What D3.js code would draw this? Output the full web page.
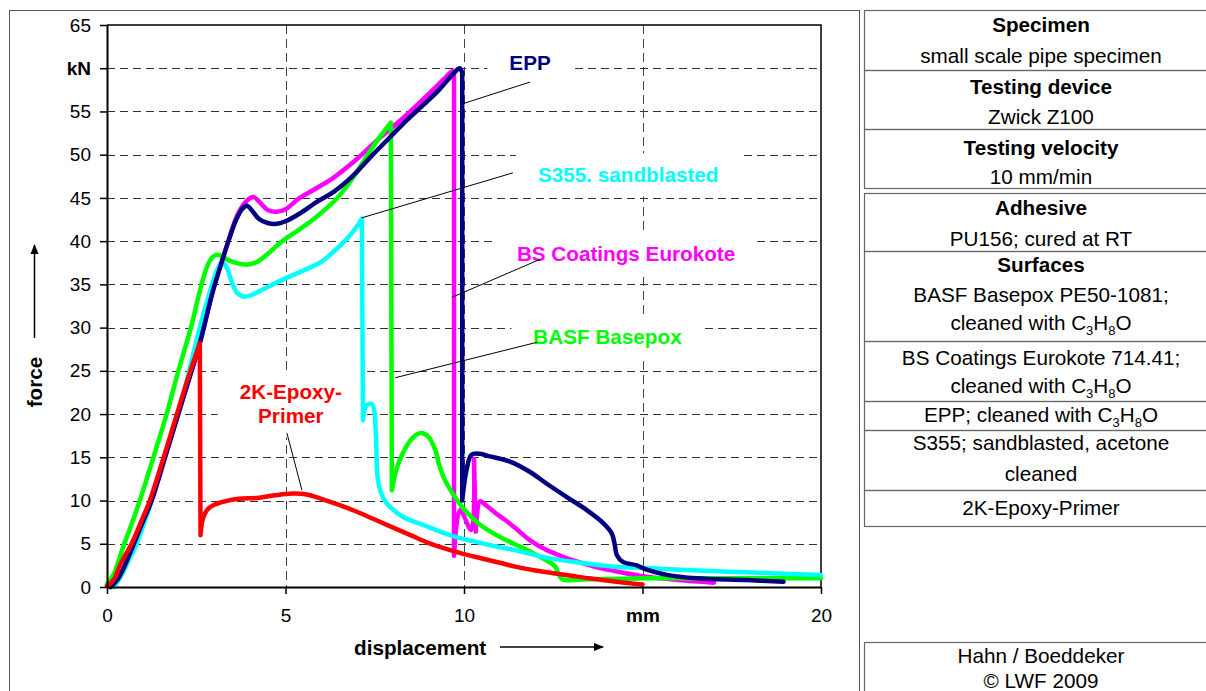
<!DOCTYPE html>
<html>
<head>
<meta charset="utf-8">
<script src="https://cdn.jsdelivr.net/npm/d3@7"></script>
<style>
body { margin: 0; background: #fff; }
text { font-family: "Liberation Sans", Arial, sans-serif; }
</style>
</head>
<body>
<div id="chart"></div>
<script>
var width = 1206;
var height = 691;

// axis ticks
var xTickValues = [0, 5, 10, 15, 20];
var xTickLabels = ["0", "5", "10", "mm", "20"];
var yTickValues = [0, 5, 10, 15, 20, 25, 30, 35, 40, 45, 50, 55, 60, 65];
var yTickLabels = ["0", "5", "10", "15", "20", "25", "30", "35", "40", "45", "50", "55", "kN", "65"];

// series: [displacement mm, force kN]
var eurokote = [[0.1,0],[0.35,1.3],[0.6,3.3],[0.8,5.2],[1.25,10],[1.95,19.4],[2.6,28.2],[2.95,34],[3.4,40],[3.65,43],
  [3.9,44.6],[4.1,45.1],[4.3,44.4],[4.5,43.6],[4.75,43.4],[5.0,43.7],[5.4,45.0],[5.9,46.2],[6.33,47.3],[7.0,49.5],
  [7.6,51.8],[8.2,53.9],[8.7,55.8],[9.13,57.5],[9.45,58.8],[9.7,59.7],[9.72,59.3],[9.72,3.6],[9.89,8.9],[10.2,6.6],
  [10.28,14.8],[10.33,6.4],[10.45,9.9],[10.6,9.5],[10.9,8.5],[11.2,7.6],[11.5,6.6],[11.85,5.4],[12.3,4.3],[12.77,3.5],
  [13.2,2.9],[13.7,2.3],[14.4,1.7],[15.1,1.2],[16,0.8],[17,0.5]];
var basepox = [[0,0.3],[0.2,1.6],[0.45,4.6],[0.7,7.4],[0.92,10],[1.3,15],[1.67,20],[2.0,25],[2.35,30],[2.65,35],
  [2.85,37.5],[3.0,38.3],[3.15,38.4],[3.4,37.8],[3.7,37.4],[3.95,37.3],[4.2,37.6],[4.5,38.5],[4.85,39.8],[5.3,41.1],
  [5.8,42.6],[6.45,45],[6.9,47.4],[7.27,49.8],[7.6,51.8],[7.95,53.7],[7.98,11.2],[8.1,13.5],[8.3,15.6],[8.55,17.2],
  [8.8,17.8],[9.0,17.4],[9.2,15.8],[9.3,14.2],[9.45,12.5],[9.7,10.7],[10.0,9.0],[10.45,7.2],[11.0,5.8],[11.4,5.0],
  [11.9,4.0],[12.3,3.1],[12.55,2.4],[12.65,1.5],[12.75,0.9],[13.5,0.9],[15,1.0],[17,1.0],[20,1.0]];
var s355 = [[0.2,0],[0.4,1.3],[0.6,3.0],[0.83,5],[1.05,7.5],[1.25,10],[1.6,15],[2.0,20],[2.3,25],[2.6,30],
  [2.85,33.7],[3.05,36.3],[3.22,37.6],[3.35,37],[3.5,35.2],[3.65,34],[3.8,33.6],[4.0,33.7],[4.4,34.5],[5.0,35.7],
  [5.5,36.6],[6.0,37.6],[6.35,38.8],[6.75,40.4],[7.0,41.7],[7.14,42.6],[7.17,19.3],[7.27,21.0],[7.41,21.2],[7.5,20.1],
  [7.54,17],[7.56,13.5],[7.65,11.2],[7.83,9.7],[8.3,8.1],[8.85,7.2],[9.6,6.0],[10.25,5.3],[11.0,4.6],[11.5,4.2],
  [12.3,3.4],[13.25,2.8],[14.2,2.35],[15.1,2.2],[16.05,2.0],[17.9,1.7],[20,1.4]];
var epp = [[0.1,0],[0.3,0.9],[0.5,2.5],[0.75,5],[1.0,7.5],[1.25,10],[1.6,14.7],[1.95,19.4],[2.3,24.1],[2.6,28.2],
  [2.95,34],[3.2,37.4],[3.4,40],[3.6,42.3],[3.78,43.7],[3.92,44.1],[4.05,43.6],[4.25,42.6],[4.5,42.1],[4.75,42.0],
  [5.0,42.3],[5.4,43.2],[5.9,44.6],[6.35,45.7],[6.9,47.6],[7.4,49.8],[7.9,51.9],[8.4,54.0],[8.9,55.9],[9.3,57.5],
  [9.6,58.9],[9.8,59.8],[9.88,60.0],[9.95,59.5],[9.95,10.0],[10.07,13.5],[10.21,15.3],[10.45,15.4],[10.73,15.1],
  [11.29,14.5],[11.85,13.3],[12.3,12.0],[12.88,10.4],[13.44,8.9],[13.9,7.4],[14.14,6.2],[14.23,4.7],[14.28,3.7],
  [14.45,2.9],[14.84,2.5],[15.12,2.0],[15.68,1.4],[16.52,1.0],[17.92,0.8],[18.95,0.6]];
var primer = [[0,0.1],[0.2,0.9],[0.36,2.5],[0.7,5.1],[0.95,7.5],[1.2,10],[1.55,14.5],[1.9,19.2],[2.25,23.9],[2.6,28.2],
  [2.62,6.0],[2.68,7.8],[2.8,8.9],[3.0,9.5],[3.3,9.9],[3.7,10.2],[4.2,10.3],[4.7,10.6],[5.2,10.8],[5.6,10.7],
  [6.0,10.2],[6.5,9.5],[7.0,8.7],[7.5,7.8],[8.0,6.9],[8.5,6.0],[9.0,5.1],[9.5,4.4],[10,3.8],[10.5,3.3],[11,2.8],
  [11.5,2.3],[12,1.9],[12.5,1.6],[13,1.3],[13.5,1.0],[14,0.75],[14.5,0.5],[15,0.3]];

var seriesNames = ["BS Coatings Eurokote", "BASF Basepox", "S355. sandblasted", "EPP", "2K-Epoxy-Primer"];
var seriesColors = ["#ff00ff", "#00ff00", "#00ffff", "#000080", "#ff0000"];
var seriesData = [eurokote, basepox, s355, epp, primer];

// labels on the curves: text lines, anchor (mm, kN) and leader line (mm, kN)
var labelLines = [["BS Coatings Eurokote"], ["BASF Basepox"], ["S355. sandblasted"], ["EPP"], ["2K-Epoxy-", "Primer"]];
var labelAt = [[14.54, 37.7], [14.02, 28.1], [14.6, 46.8], [11.85, 59.8], [5.15, 21.7]];
var leaders = [[[9.66,33.5],[12.13,37.9]], [[8.07,24.2],[12.04,28.3]], [[7.14,42.7],[11.37,47.9]],
  [[9.97,55.9],[11.85,58.4]], [[5.04,17.8],[5.46,11.2]]];

// info table at the right
var tableCells = [
  ["*Specimen", "small scale pipe specimen"],
  ["*Testing device", "Zwick Z100"],
  ["*Testing velocity", "10 mm/min"],
  ["*Adhesive", "PU156; cured at RT"],
  ["*Surfaces", "BASF Basepox PE50-1081;", "cleaned with C_3H_8O"],
  ["BS Coatings Eurokote 714.41;", "cleaned with C_3H_8O"],
  ["EPP; cleaned with C_3H_8O"],
  ["S355; sandblasted, acetone", "cleaned"],
  ["2K-Epoxy-Primer"],
  ["Hahn / Boeddeker", "\u00a9 LWF 2009"]
];
var cellTop = [10, 70, 129, 193, 251, 341, 401, 430, 490, 642];
var cellBottom = [70, 129, 188, 251, 341, 401, 430, 490, 526, 720];
var cellBaselines = [[32, 63], [94, 124], [155, 184], [215, 246], [272, 302, 330], [365, 393], [422], [450, 481], [515], [663, 688]];

var fontSize = 20.7;

var svg = d3.select("#chart")
  .append("svg")
  .attr("width", width)
  .attr("height", height)
  .style("display", "block");

svg.append("rect").attr("width", width).attr("height", height).attr("fill", "#fff");

var x = d3.scaleLinear().domain([0, 20]).range([107, 821]);
var y = d3.scaleLinear().domain([0, 65]).range([587, 25]);

// outer chart frame
svg.append("rect")
  .attr("x", 9.5).attr("y", 10.5)
  .attr("width", 850).attr("height", 720)
  .attr("fill", "none").attr("stroke", "#555").attr("stroke-width", 1);

// grid
svg.append("g").selectAll("line")
  .data(yTickValues.filter(function (d) { return d > 0 && d < 65; }))
  .enter().append("line")
  .attr("x1", x(0)).attr("x2", x(20))
  .attr("y1", function (d) { return Math.round(y(d)) + 0.5; })
  .attr("y2", function (d) { return Math.round(y(d)) + 0.5; })
  .attr("stroke", "#333").attr("stroke-dasharray", "8,5");

svg.append("g").selectAll("line")
  .data(xTickValues.filter(function (d) { return d > 0 && d < 20; }))
  .enter().append("line")
  .attr("y1", y(65)).attr("y2", y(0))
  .attr("x1", function (d) { return Math.round(x(d)) + 0.5; })
  .attr("x2", function (d) { return Math.round(x(d)) + 0.5; })
  .attr("stroke", "#444").attr("stroke-dasharray", "9,5");

// plot frame top/right
svg.append("path")
  .attr("d", "M" + x(0) + "," + y(65) + "H" + x(20) + "V" + y(0))
  .attr("fill", "none").attr("stroke", "#000").attr("stroke-width", 1.5);

// label boxes (white, hide the grid)
var labelG = svg.append("g");
var labels = labelG.selectAll("g.lab")
  .data(labelLines)
  .enter().append("g").attr("class", "lab");

labels.each(function (lines, i) {
  var g = d3.select(this);
  var t = g.append("text")
    .attr("text-anchor", "middle")
    .attr("font-size", fontSize)
    .attr("font-weight", "bold")
    .attr("fill", seriesColors[i]);
  lines.forEach(function (s, k) {
    t.append("tspan")
      .attr("x", x(labelAt[i][0]))
      .attr("y", y(labelAt[i][1]) + k * 24)
      .text(s);
  });
  var bb = t.node().getBBox();
  g.insert("rect", "text")
    .attr("x", bb.x - 22).attr("y", bb.y - 10)
    .attr("width", bb.width + 44).attr("height", bb.height + 20)
    .attr("fill", "#fff");
});

// curves: smooth pieces, straight vertical breaks
var smooth = d3.line()
  .x(function (d) { return x(d[0]); })
  .y(function (d) { return y(d[1]); })
  .curve(d3.curveCatmullRom.alpha(0.5));

function isBreak(a, b) {
  return Math.abs(b[0] - a[0]) <= 0.08 && Math.abs(b[1] - a[1]) > 3;
}

function curvePath(pts) {
  var d = "";
  var piece = [pts[0]];
  for (var i = 1; i < pts.length; i++) {
    if (isBreak(pts[i - 1], pts[i])) {
      if (piece.length > 1) d += smooth(piece);
      d += smooth([pts[i - 1], pts[i]]);
      piece = [pts[i]];
    } else {
      piece.push(pts[i]);
    }
  }
  if (piece.length > 1) d += smooth(piece);
  return d;
}

svg.append("g").selectAll("path")
  .data(seriesData)
  .enter().append("path")
  .attr("d", curvePath)
  .attr("fill", "none")
  .attr("stroke", function (d, i) { return seriesColors[i]; })
  .attr("stroke-width", 4.5)
  .attr("stroke-linejoin", "round")
  .attr("stroke-linecap", "round");

// leader lines
svg.append("g").selectAll("line")
  .data(leaders)
  .enter().append("line")
  .attr("x1", function (d) { return x(d[0][0]); })
  .attr("y1", function (d) { return y(d[0][1]); })
  .attr("x2", function (d) { return x(d[1][0]); })
  .attr("y2", function (d) { return y(d[1][1]); })
  .attr("stroke", "#000").attr("stroke-width", 1);

// axes
var yAxis = d3.axisLeft(y)
  .tickValues(yTickValues)
  .tickFormat(function (d, i) { return yTickLabels[i]; })
  .tickSize(7).tickSizeOuter(0).tickPadding(9);

var xAxis = d3.axisBottom(x)
  .tickValues(xTickValues)
  .tickFormat(function (d, i) { return xTickLabels[i]; })
  .tickSize(7).tickSizeOuter(0).tickPadding(15);

var gy = svg.append("g").attr("transform", "translate(" + x(0) + ",0)").call(yAxis);
var gx = svg.append("g").attr("transform", "translate(0," + y(0) + ")").call(xAxis);

[gx, gy].forEach(function (g) {
  g.select(".domain").attr("stroke", "#000").attr("stroke-width", 2);
  g.selectAll(".tick line").attr("stroke", "#000").attr("stroke-width", 1.5);
  g.selectAll(".tick text")
    .attr("font-family", "Liberation Sans, Arial, sans-serif")
    .attr("font-size", 19)
    .attr("fill", "#000")
    .attr("font-weight", function () {
      var s = d3.select(this).text();
      return (s === "kN" || s === "mm") ? "bold" : "normal";
    });
});

// axis titles with arrows
svg.append("defs").append("marker")
  .attr("id", "arrow")
  .attr("viewBox", "0 0 10 10")
  .attr("refX", 9).attr("refY", 5)
  .attr("markerWidth", 10).attr("markerHeight", 10)
  .attr("markerUnits", "userSpaceOnUse")
  .attr("orient", "auto")
  .append("path").attr("d", "M0,1 L10,5 L0,9 Z").attr("fill", "#000");

svg.append("text")
  .attr("x", 354).attr("y", 655)
  .attr("font-size", fontSize).attr("font-weight", "bold")
  .text("displacement");
svg.append("line")
  .attr("x1", 500).attr("y1", 647).attr("x2", 603).attr("y2", 647)
  .attr("stroke", "#000").attr("stroke-width", 1.5)
  .attr("marker-end", "url(#arrow)");

svg.append("text")
  .attr("transform", "translate(42,382) rotate(-90)")
  .attr("text-anchor", "middle")
  .attr("font-size", fontSize).attr("font-weight", "bold")
  .text("force");
svg.append("line")
  .attr("x1", 34.5).attr("y1", 338).attr("x2", 34.5).attr("y2", 245)
  .attr("stroke", "#000").attr("stroke-width", 1.5)
  .attr("marker-end", "url(#arrow)");

// table
var tableLeft = 864.5;
var tableRight = 1218;
var tableCenter = 1041;
var tg = svg.append("g");

tableCells.forEach(function (cell, i) {
  tg.append("rect")
    .attr("x", tableLeft).attr("y", cellTop[i] + 0.5)
    .attr("width", tableRight - tableLeft)
    .attr("height", cellBottom[i] - cellTop[i])
    .attr("fill", "none").attr("stroke", "#666").attr("stroke-width", 1.2);
  cell.forEach(function (s, k) {
    var bold = s.charAt(0) === "*";
    if (bold) s = s.slice(1);
    var t = tg.append("text")
      .attr("x", tableCenter).attr("y", cellBaselines[i][k])
      .attr("text-anchor", "middle")
      .attr("font-size", fontSize)
      .attr("font-weight", bold ? "bold" : "normal")
      .attr("fill", "#000");
    // subscripts written as _n
    var parts = s.split(/_(\d)/);
    parts.forEach(function (p, j) {
      if (p === "") return;
      if (j % 2 === 1) {
        t.append("tspan").attr("font-size", 13).attr("dy", 5).text(p);
      } else {
        var ts = t.append("tspan").text(p);
        if (j > 0) ts.attr("dy", -5);
      }
    });
  });
});
</script>
</body>
</html>
